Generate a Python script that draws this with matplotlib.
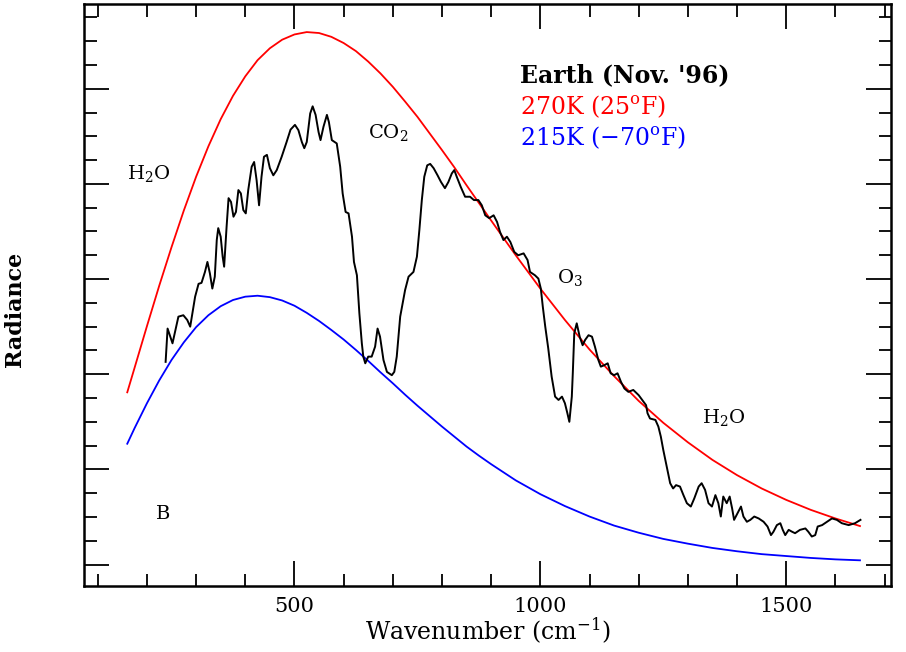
import matplotlib
matplotlib.use('Agg')
import matplotlib.pyplot as plt
from matplotlib.ticker import MultipleLocator, NullFormatter

plt.rcParams['font.family'] = ['DejaVu Serif']
plt.rcParams['mathtext.fontset'] = 'dejavuserif'

# blackbody curves (mW / m2 sr cm-1)
nu_bb = [160, 175, 200, 225, 250, 275, 300, 325, 350, 375, 400, 425, 450, 475,
         500, 525, 550, 575, 600, 625, 650, 675, 700, 725, 750, 775, 800, 825,
         850, 875, 900, 950, 1000, 1050, 1100, 1150, 1200, 1250, 1300, 1350,
         1400, 1450, 1500, 1550, 1600, 1650]
b270 = [36.2, 41.4, 50.1, 58.6, 66.7, 74.4, 81.5, 87.9, 93.6, 98.5, 102.6, 106.0,
        108.5, 110.3, 111.4, 111.9, 111.7, 110.9, 109.6, 107.9, 105.7, 103.2,
        100.4, 97.3, 94.1, 90.6, 87.1, 83.5, 79.7, 76.0, 72.3, 65.0, 58.0, 51.4,
        45.2, 39.6, 34.4, 29.8, 25.7, 22.0, 18.8, 16.0, 13.6, 11.5, 9.7, 8.1]
b215 = [25.4, 28.7, 33.9, 38.7, 43.0, 46.7, 49.9, 52.4, 54.3, 55.6, 56.3, 56.5,
        56.2, 55.5, 54.4, 52.9, 51.2, 49.3, 47.3, 45.1, 42.8, 40.4, 38.1, 35.7,
        33.4, 31.2, 29.0, 26.9, 24.8, 22.9, 21.1, 17.7, 14.8, 12.3, 10.1, 8.2,
        6.7, 5.4, 4.4, 3.5, 2.8, 2.2, 1.8, 1.4, 1.1, 0.9]

# Earth spectrum, Nov. '96
nu_earth = [238, 242, 252, 264, 274, 282, 288, 298, 305, 311, 318, 323, 328, 333,
            338, 342, 345, 350, 354, 357, 362, 366, 371, 376, 381, 386, 391, 396,
            401, 406, 413, 418, 423, 428, 433, 438, 444, 450, 457, 464, 474, 484,
            492, 501, 508, 515, 520, 525, 532, 537, 543, 549, 553, 559, 566, 570,
            576, 586, 593, 598, 604, 610, 617, 621, 627, 632, 637, 640, 644, 650,
            657, 664, 669, 674, 678, 681, 688, 698, 703, 708, 715, 725, 732, 742,
            749, 754, 759, 764, 770, 776, 783, 791, 798, 806, 813, 820, 825, 830,
            838, 847, 857, 865, 874, 881, 888, 896, 905, 912, 918, 925, 932, 939,
            947, 955, 966, 974, 979, 989, 996, 1001, 1005, 1010, 1016, 1023, 1030,
            1037, 1044, 1050, 1055, 1059, 1064, 1066, 1069, 1074, 1080, 1086, 1091,
            1098, 1105, 1111, 1118, 1123, 1130, 1137, 1143, 1150, 1157, 1164, 1171,
            1179, 1189, 1200, 1210, 1215, 1218, 1223, 1234, 1240, 1245, 1250, 1257,
            1264, 1270, 1276, 1284, 1291, 1298, 1306, 1313, 1322, 1328, 1335, 1342,
            1349, 1356, 1362, 1367, 1372, 1379, 1385, 1390, 1394, 1401, 1408, 1413,
            1420, 1427, 1435, 1444, 1454, 1462, 1469, 1474, 1481, 1488, 1493, 1498,
            1505, 1512, 1518, 1528, 1539, 1545, 1552, 1559, 1564, 1573, 1583, 1593,
            1603, 1613, 1627, 1640, 1651]
rad_earth = [42.6, 49.6, 46.5, 52.1, 52.4, 51.4, 50.0, 56.3, 59.0, 59.2, 61.5, 63.6,
             61.2, 58.0, 60.5, 68.2, 70.7, 68.9, 64.7, 62.6, 71.0, 77.0, 76.2, 73.1,
             74.1, 78.7, 78.0, 74.5, 73.8, 78.7, 83.6, 84.6, 80.8, 75.5, 81.5, 85.7,
             86.1, 83.3, 81.8, 82.9, 85.7, 88.8, 91.4, 92.4, 91.3, 88.8, 87.5, 88.8,
             94.8, 96.3, 94.5, 90.9, 89.2, 92.0, 94.5, 93.0, 89.2, 88.5, 83.6, 78.0,
             74.1, 73.8, 68.9, 63.6, 60.8, 52.8, 46.5, 43.7, 42.3, 43.7, 43.7, 45.8,
             49.6, 47.9, 45.1, 43.0, 40.5, 39.8, 40.5, 43.7, 52.1, 57.7, 60.5, 61.5,
             64.7, 70.3, 76.6, 81.5, 83.9, 84.2, 83.3, 81.8, 80.4, 79.1, 80.4, 82.2,
             82.9, 81.5, 79.4, 77.3, 77.3, 76.6, 76.6, 75.5, 73.4, 72.8, 73.4, 72.0,
             69.9, 68.2, 68.9, 67.8, 65.7, 65.0, 65.4, 64.0, 61.5, 60.8, 60.1, 58.0,
             54.2, 50.0, 45.5, 39.5, 35.3, 34.6, 35.3, 33.9, 31.8, 30.0, 35.3, 40.2,
             48.6, 50.7, 47.9, 46.1, 47.2, 48.2, 47.9, 45.8, 43.0, 41.6, 41.9, 42.3,
             40.2, 39.8, 40.2, 38.4, 37.0, 36.3, 36.7, 35.6, 34.2, 33.5, 31.8, 30.7,
             30.4, 29.0, 26.9, 24.1, 20.6, 17.1, 16.0, 16.7, 16.4, 14.6, 12.9, 12.2,
             13.9, 16.4, 17.1, 15.7, 12.9, 12.2, 14.6, 12.9, 10.1, 14.3, 12.9, 14.3,
             11.8, 9.4, 10.8, 12.2, 10.1, 9.0, 9.4, 10.1, 9.7, 9.0, 8.0, 6.2, 6.9,
             8.3, 8.7, 7.3, 6.2, 7.3, 6.9, 6.6, 7.3, 7.6, 6.9, 5.9, 6.2, 8.0, 8.3,
             9.0, 9.7, 9.4, 8.7, 8.3, 8.7, 9.4]

fig = plt.figure(figsize=(9.06, 6.52), dpi=100)
ax = fig.add_axes([0.0927, 0.1012, 0.8907, 0.8934])

ax.plot(nu_bb, b270, color='#ff0000', lw=1.3)
ax.plot(nu_bb, b215, color='#0000ff', lw=1.3)
ax.plot(nu_earth, rad_earth, color='black', lw=1.4)

ax.set_xlim(72, 1713)
ax.set_ylim(-4.5, 117.9)

ax.xaxis.set_major_locator(MultipleLocator(500))
ax.xaxis.set_minor_locator(MultipleLocator(100))
ax.yaxis.set_major_locator(MultipleLocator(20))
ax.yaxis.set_minor_locator(MultipleLocator(5))
ax.yaxis.set_major_formatter(NullFormatter())
ax.tick_params(which='both', direction='in', top=True, right=True, width=1.3,
               labelsize=15, pad=8)
ax.tick_params(which='major', length=18)
ax.tick_params(which='minor', length=9)
for s in ax.spines.values():
    s.set_linewidth(1.8)

ax.set_xlabel('Wavenumber (cm$^{-1}$)', fontsize=17, labelpad=0)
ax.set_ylabel('Radiance', fontsize=16, fontweight='bold', va='center')
ax.yaxis.set_label_coords(-0.0855, 0.4755)

ax.text(204, 82.2, 'H$_2$O', fontsize=14, ha='center', va='center')
ax.text(690, 90.9, 'CO$_2$', fontsize=14, ha='center', va='center')
ax.text(1061, 60.4, 'O$_3$', fontsize=14, ha='center', va='center')
ax.text(1372, 31.0, 'H$_2$O', fontsize=14, ha='center', va='center')
ax.text(233, 10.6, 'B', fontsize=14, ha='center', va='center')

ax.text(959, 102.8, "Earth (Nov. '96)", fontsize=17, fontweight='bold',
        ha='left', va='center')
ax.text(959, 96.3, '270K (25$^\\mathrm{o}$F)', fontsize=17, color='#ff0000',
        ha='left', va='center')
ax.text(959, 89.8, '215K ($-$70$^\\mathrm{o}$F)', fontsize=17, color='#0000ff',
        ha='left', va='center')

fig.savefig('out.png', dpi=100)
